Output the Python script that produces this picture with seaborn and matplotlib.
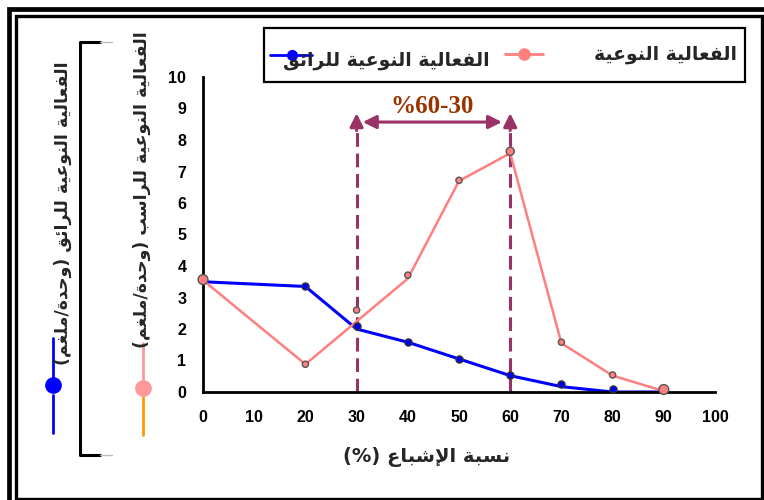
import matplotlib
matplotlib.use("Agg")
import matplotlib.pyplot as plt
import seaborn as sns
from matplotlib.lines import Line2D
from matplotlib.patches import Rectangle

# --- values ---
pink_line_x = [0, 20, 40, 50, 60, 70, 80, 90]
pink_line_y = [3.55, 0.88, 3.6, 6.7, 7.58, 1.55, 0.52, 0.03]
pink_pts_x = [0, 20, 30, 40, 50, 60, 70, 80, 90]
pink_pts_y = [3.57, 0.88, 2.6, 3.71, 6.72, 7.64, 1.58, 0.54, 0.08]

blue_line_x = [0, 20, 30, 40, 50, 60, 70, 80, 90]
blue_line_y = [3.5, 3.35, 2.0, 1.58, 1.05, 0.52, 0.17, 0.0, 0.0]
blue_pts_x = [20, 30, 40, 50, 60, 70, 80]
blue_pts_y = [3.38, 2.1, 1.58, 1.06, 0.55, 0.25, 0.1]

range_lo, range_hi = 30, 60
range_label = "%60-30"
x_ticks = list(range(0, 101, 10))
y_ticks = list(range(0, 11))

label_pink = "الفعالية النوعية"
label_blue = "الفعالية النوعية للرائق"
ylabel_pink = "الفعالية النوعية للراسب (وحدة/ملغم)"
ylabel_blue = "الفعالية النوعية للرائق (وحدة/ملغم)"
xlabel = "نسبة الإشباع (%)"

PINK = "#ff7f7f"
BLUE = "#0000ff"
PLUM = "#993366"
BROWN = "#993300"

# --- small Arabic shaping helper (matplotlib has no shaping / bidi) ---
FORMS = {  # isolated, final, initial, medial
    'ا': (0xFE8D, 0xFE8E, None, None), 'إ': (0xFE87, 0xFE88, None, None),
    'ب': (0xFE8F, 0xFE90, 0xFE91, 0xFE92), 'ة': (0xFE93, 0xFE94, None, None),
    'ح': (0xFEA1, 0xFEA2, 0xFEA3, 0xFEA4), 'د': (0xFEA9, 0xFEAA, None, None),
    'ر': (0xFEAD, 0xFEAE, None, None), 'س': (0xFEB1, 0xFEB2, 0xFEB3, 0xFEB4),
    'ش': (0xFEB5, 0xFEB6, 0xFEB7, 0xFEB8), 'ع': (0xFEC9, 0xFECA, 0xFECB, 0xFECC),
    'غ': (0xFECD, 0xFECE, 0xFECF, 0xFED0), 'ف': (0xFED1, 0xFED2, 0xFED3, 0xFED4),
    'ق': (0xFED5, 0xFED6, 0xFED7, 0xFED8), 'ل': (0xFEDD, 0xFEDE, 0xFEDF, 0xFEE0),
    'م': (0xFEE1, 0xFEE2, 0xFEE3, 0xFEE4), 'ن': (0xFEE5, 0xFEE6, 0xFEE7, 0xFEE8),
    'و': (0xFEED, 0xFEEE, None, None), 'ي': (0xFEF1, 0xFEF2, 0xFEF3, 0xFEF4),
    'ئ': (0xFE89, 0xFE8A, 0xFE8B, 0xFE8C),
}
LAM_ALEF = {'ا': (0xFEFB, 0xFEFC), 'إ': (0xFEF9, 0xFEFA)}


def ar(text):
    items, i = [], 0
    while i < len(text):
        if text[i] == 'ل' and i + 1 < len(text) and text[i + 1] in LAM_ALEF:
            items.append(('LA', text[i + 1]))
            i += 2
        else:
            items.append(text[i])
            i += 1

    def is_ar(c):
        return isinstance(c, tuple) or c in FORMS

    def joins_fwd(c):
        return isinstance(c, str) and c in FORMS and FORMS[c][2] is not None

    out = []
    for k, c in enumerate(items):
        prev = items[k - 1] if k > 0 else None
        nxt = items[k + 1] if k + 1 < len(items) else None
        link_prev = prev is not None and joins_fwd(prev) and is_ar(c)
        if isinstance(c, tuple):
            iso, fin = LAM_ALEF[c[1]]
            out.append(chr(fin if link_prev else iso))
            continue
        if c not in FORMS:
            out.append(c)
            continue
        f = FORMS[c]
        link_next = f[2] is not None and nxt is not None and is_ar(nxt)
        if link_prev and link_next:
            out.append(chr(f[3]))
        elif link_prev:
            out.append(chr(f[1]))
        elif link_next:
            out.append(chr(f[2]))
        else:
            out.append(chr(f[0]))
    s = ''.join(reversed(out))
    return s.translate(str.maketrans('()', ')('))


# --- figure ---
sns.set_style("white")
W, H = 764, 500
fig = plt.figure(figsize=(W / 100, H / 100), dpi=100)


def fx(x):
    return x / W


def fy(y):
    return 1 - y / H


ax = fig.add_axes([fx(203), fy(392), (715 - 203) / W, (392 - 77) / H])

sns.lineplot(x=blue_line_x, y=blue_line_y, ax=ax, color=BLUE, lw=2.2,
             estimator=None, zorder=2)
sns.lineplot(x=pink_line_x, y=pink_line_y, ax=ax, color=PINK, lw=1.8,
             estimator=None, zorder=3)
sns.scatterplot(x=blue_pts_x, y=blue_pts_y, ax=ax, color=BLUE, s=26,
                edgecolor="#333333", linewidth=1, zorder=5, clip_on=False)
pink_sizes = [50 if x in (0, 90) else 34 if x == 60 else 20 for x in pink_pts_x]
sns.scatterplot(x=pink_pts_x, y=pink_pts_y, ax=ax, color=PINK, s=pink_sizes,
                edgecolor="#555555", linewidth=1, zorder=6, clip_on=False)

# 30-60 % range markers
for xv in (range_lo, range_hi):
    ax.plot([xv, xv], [0, 8.35], color=PLUM, lw=2.2, ls=(0, (4.5, 2.2)), zorder=1)
    ax.annotate("", xy=(xv, 8.85), xytext=(xv, 8.3),
                arrowprops=dict(arrowstyle="-|>", color=PLUM, lw=2.2,
                                mutation_scale=20, shrinkA=0, shrinkB=0))
ax.annotate("", xy=(range_lo + 1.2, 8.57), xytext=(range_hi - 1.6, 8.57),
            arrowprops=dict(arrowstyle="<|-|>", color=PLUM, lw=2.2,
                            mutation_scale=20, shrinkA=0, shrinkB=0))
ax.text((range_lo + range_hi) / 2 - 0.3, 9.05, range_label, color=BROWN,
        ha="center", va="center", fontsize=18, fontweight="bold",
        family="Liberation Serif")

ax.set_xlim(0, 100)
ax.set_ylim(0, 10)
ax.set_xticks(x_ticks)
ax.set_yticks(y_ticks)
ax.set_xlabel("")
ax.set_ylabel("")
sns.despine(ax=ax)
for side in ("left", "bottom"):
    ax.spines[side].set_linewidth(2)
    ax.spines[side].set_color("black")
ax.tick_params(axis="x", direction="out", length=4, width=1.5, pad=9,
               colors="black")
ax.tick_params(axis="y", direction="out", length=4, width=1, pad=8,
               color="#888888", labelcolor="black")
for lab in ax.get_xticklabels() + ax.get_yticklabels():
    lab.set_family("Liberation Sans")
    lab.set_fontweight("bold")
    lab.set_fontsize(11.5)

arfont = dict(family="DejaVu Sans", fontweight="bold")

# x axis title
fig.text(fx(427), fy(457), ar(xlabel), ha="center", va="center",
         fontsize=14, **arfont)

# legend box at the top
fig.add_artist(Rectangle((fx(264), fy(82)), (745 - 264) / W, (82 - 28) / H,
                         transform=fig.transFigure, fill=False, lw=1.6,
                         ec="black"))
fig.add_artist(Line2D([fx(505), fx(543)], [fy(54), fy(54)], color=PINK, lw=2,
                      transform=fig.transFigure))
fig.add_artist(Line2D([fx(524)], [fy(54)], color=PINK, marker="o", ms=8,
                      transform=fig.transFigure))
fig.text(fx(737), fy(55), ar(label_pink), ha="right", va="center",
         fontsize=13.5, **arfont)
fig.add_artist(Line2D([fx(270), fx(312)], [fy(55), fy(55)], color=BLUE, lw=2,
                      transform=fig.transFigure))
fig.add_artist(Line2D([fx(292)], [fy(55)], color=BLUE, marker="o", ms=7,
                      transform=fig.transFigure))
fig.text(fx(490), fy(60), ar(label_blue), ha="right", va="center",
         fontsize=13.5, **arfont)

# left side: vertical axis titles with their keys and a bracket
fig.text(fx(142), fy(190), ar(ylabel_pink), rotation=90, ha="center",
         va="center", fontsize=12.5, **arfont)
fig.text(fx(63), fy(213), ar(ylabel_blue), rotation=90, ha="center",
         va="center", fontsize=12.5, **arfont)
fig.add_artist(Line2D([fx(143), fx(143)], [fy(343), fy(382)], color="#ff9999",
                      lw=2, transform=fig.transFigure))
fig.add_artist(Line2D([fx(143), fx(143)], [fy(395), fy(435)], color="#ff9900",
                      lw=2, transform=fig.transFigure))
fig.add_artist(Line2D([fx(143)], [fy(388)], color="#ff9999", marker="o", ms=11,
                      transform=fig.transFigure))
fig.add_artist(Line2D([fx(53), fx(53)], [fy(338), fy(378)], color=BLUE,
                      lw=2, transform=fig.transFigure))
fig.add_artist(Line2D([fx(53), fx(53)], [fy(395), fy(433)], color=BLUE,
                      lw=2, transform=fig.transFigure))
fig.add_artist(Line2D([fx(53)], [fy(385)], color=BLUE, marker="o", ms=11,
                      transform=fig.transFigure))
fig.add_artist(Line2D([fx(100), fx(80), fx(80), fx(100)],
                      [fy(42), fy(42), fy(455), fy(455)], color="black", lw=2.2,
                      transform=fig.transFigure))
for yy in (42, 455):
    fig.add_artist(Line2D([fx(100), fx(112)], [fy(yy), fy(yy)], color="#bbbbbb",
                          lw=1, transform=fig.transFigure))

# double frame round the whole picture
fig.add_artist(Rectangle((fx(8.5), fy(520)), (800 - 8.5) / W, (520 - 8.5) / H,
                         transform=fig.transFigure, fill=False, lw=3.4,
                         ec="black"))
fig.add_artist(Rectangle((fx(15.5), fy(498.5)), (762 - 15.5) / W,
                         (498.5 - 15.5) / H, transform=fig.transFigure,
                         fill=False, lw=2.4, ec="black"))

fig.savefig("out.png", dpi=100)
